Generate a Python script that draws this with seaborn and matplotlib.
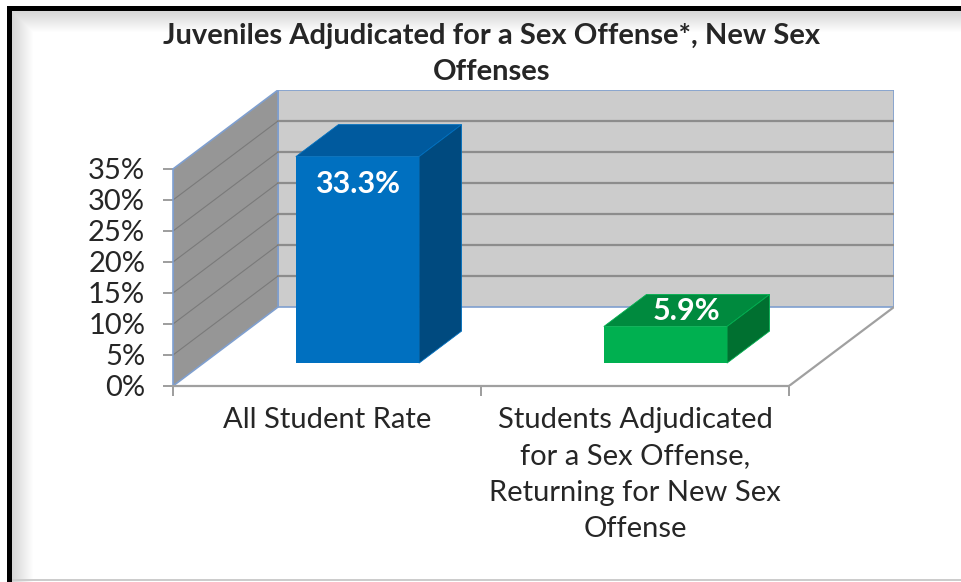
import numpy as np
import pandas as pd
import matplotlib
matplotlib.use('Agg')
import matplotlib.pyplot as plt
import seaborn as sns
from matplotlib.patches import Polygon
from matplotlib.transforms import Affine2D

# Chart data
categories = ['All Student Rate',
              'Students Adjudicated\nfor a Sex Offense,\nReturning for New Sex\nOffense']
rates = [33.3, 5.9]
value_labels = ['33.3%', '5.9%']
y_ticks = [0, 5, 10, 15, 20, 25, 30, 35]
y_tick_labels = ['0%', '5%', '10%', '15%', '20%', '25%', '30%', '35%']
title = 'Juveniles Adjudicated for a Sex Offense*, New Sex\nOffenses'

# Bar face colours (front, top, side)
front_colors = ['#0070C0', '#00B050']
top_colors = ['#005A9E', '#008A3E']
side_colors = ['#004A7F', '#007030']

# Oblique "3D" projection settings
DEPTH_X = 0.341            # depth offset in category units
DEPTH_Y = 12.74            # depth offset in percent units
BAR_FRONT, BAR_BACK = 0.29, 0.695
WALL_EDGE = '#7F9FCF'

sns.set_style('white')
plt.rcParams['font.family'] = ['Lato', 'DejaVu Sans']


def proj(x, y, d):
    return (x + d * DEPTH_X, y + d * DEPTH_Y)


def main():
    fig = plt.figure(figsize=(9.61, 5.82), dpi=100)

    # Frame with soft shadow behind everything
    bg = np.ones((582, 961, 3))
    ramp = np.linspace(0.84, 1.0, 22)
    bg[11:, 12:34] = np.minimum(bg[11:, 12:34], ramp[None, :, None])
    bg[11:33, 12:] = np.minimum(bg[11:33, 12:], ramp[:, None, None])
    bg[11:13, 12:] = 0.85
    bg[6:11, 7:] = 0
    bg[6:, 7:12] = 0
    bg[579:581, 12:] = 0.8
    bg_ax = fig.add_axes([0, 0, 1, 1])
    bg_ax.imshow(bg, aspect='auto', interpolation='nearest')
    bg_ax.axis('off')

    ax = fig.add_axes([173 / 961, (582 - 386) / 582,
                       (894 - 173) / 961, (386 - 90) / 582])
    ax.set_facecolor('none')

    # Bars via seaborn
    df = pd.DataFrame({'category': categories, 'rate': rates})
    sns.barplot(data=df, x='category', y='rate', hue='category',
                palette=front_colors, width=0.4, saturation=1,
                linewidth=0, legend=False, ax=ax, zorder=4)
    bars = list(ax.patches)

    x_lo, x_hi = -0.5, len(categories) - 0.5
    y_top = y_ticks[-1]

    # Walls and floor
    side = [proj(x_lo, 0, 0), proj(x_lo, y_top, 0),
            proj(x_lo, y_top, 1), proj(x_lo, 0, 1)]
    back = [proj(x_lo, 0, 1), proj(x_hi, 0, 1),
            proj(x_hi, y_top, 1), proj(x_lo, y_top, 1)]
    ax.add_patch(Polygon(back, closed=True, facecolor='#CCCCCC',
                         edgecolor=WALL_EDGE, lw=1.2, zorder=1))
    ax.add_patch(Polygon(side, closed=True, facecolor='#969696',
                         edgecolor=WALL_EDGE, lw=1.2, zorder=1))
    for t in y_ticks[1:-1]:
        ax.plot(*zip(proj(x_lo, t, 1), proj(x_hi, t, 1)),
                color='#8C8C8C', lw=1.6, zorder=2)
        ax.plot(*zip(proj(x_lo, t, 0), proj(x_lo, t, 1)),
                color='#7A7A7A', lw=0.8, zorder=2)
    ax.plot(*zip(proj(x_hi, 0, 0), proj(x_hi, 0, 1)),
            color='#A0A0A0', lw=1.6, zorder=2)

    # Bar top and side faces, labels
    for i, p in enumerate(bars):
        x0, w, h = p.get_x(), p.get_width(), p.get_height()
        p.set_transform(Affine2D().translate(BAR_FRONT * DEPTH_X,
                                             BAR_FRONT * DEPTH_Y)
                        + ax.transData)
        top = [proj(x0, h, BAR_FRONT), proj(x0 + w, h, BAR_FRONT),
               proj(x0 + w, h, BAR_BACK), proj(x0, h, BAR_BACK)]
        sd = [proj(x0 + w, 0, BAR_FRONT), proj(x0 + w, 0, BAR_BACK),
              proj(x0 + w, h, BAR_BACK), proj(x0 + w, h, BAR_FRONT)]
        ax.add_patch(Polygon(top, closed=True, facecolor=top_colors[i],
                             edgecolor=front_colors[i], lw=0.6, zorder=4))
        ax.add_patch(Polygon(sd, closed=True, facecolor=side_colors[i],
                             edgecolor=front_colors[i], lw=0.6, zorder=4))

        if h > 20:
            lx, ly = proj(x0 + w / 2, h - 4.35, BAR_FRONT)
        else:
            lx, ly = proj(x0 + w / 2, h, (BAR_FRONT + BAR_BACK) / 2)
        ax.text(lx, ly, value_labels[i], color='white', fontsize=22,
                fontweight='bold', ha='center', va='center', zorder=6)

    # Axes formatting
    ax.set_xlim(x_lo, x_hi + DEPTH_X)
    ax.set_ylim(0, y_top + DEPTH_Y)
    ax.set_yticks(y_ticks, labels=y_tick_labels)
    ax.set_xticks(range(len(categories)), labels=categories)
    ax.set_xticks(np.arange(x_lo, x_hi + 0.01, 1), minor=True)
    ax.set_xlabel('')
    ax.set_ylabel('')
    ax.grid(False)

    for s in ['top', 'right']:
        ax.spines[s].set_visible(False)
    ax.spines['left'].set_bounds(0, y_top)
    ax.spines['left'].set_color(WALL_EDGE)
    ax.spines['left'].set_linewidth(1.2)
    ax.spines['bottom'].set_bounds(x_lo, x_hi)
    ax.spines['bottom'].set_color('#A0A0A0')
    ax.spines['bottom'].set_linewidth(1.6)

    ax.tick_params(axis='y', length=7, width=1.2, color='#8C8C8C',
                   labelsize=21, pad=13, left=True)
    ax.tick_params(axis='x', which='major', length=0, labelsize=21,
                   pad=15)
    ax.tick_params(axis='x', which='minor', length=7, width=1.2,
                   color='#8C8C8C', bottom=True)
    for lab in ax.get_xticklabels():
        lab.set_linespacing(1.5)

    fig.text(492 / 961, 1 - 54 / 582, title, ha='center', va='center',
             fontsize=21, fontweight='bold', linespacing=1.5)

    fig.savefig('out.png', dpi=100)
    plt.close(fig)


if __name__ == '__main__':
    main()
